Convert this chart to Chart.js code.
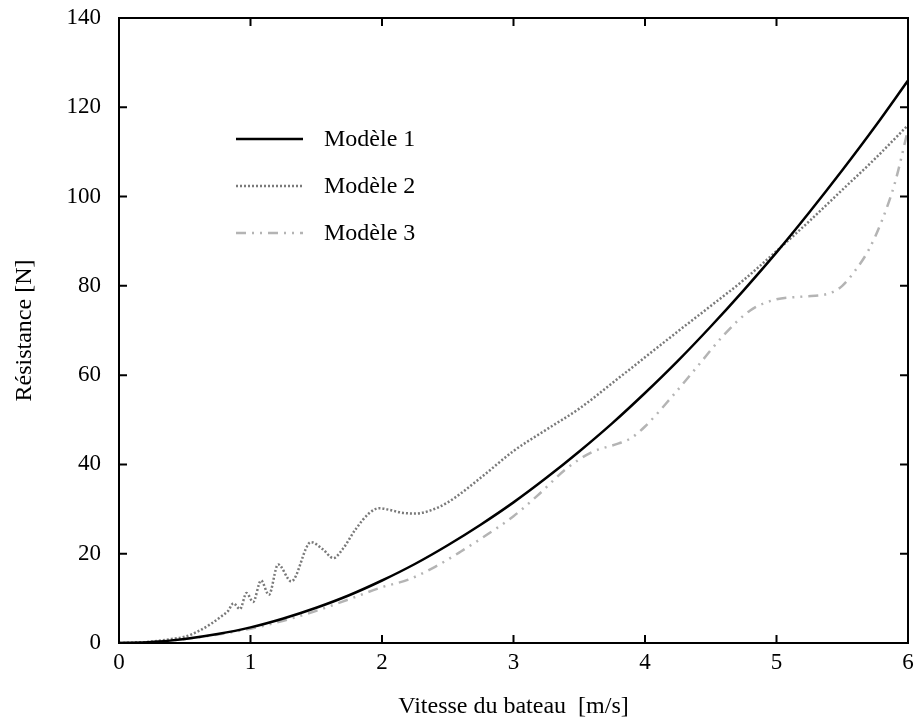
<!DOCTYPE html>
<html>
<head>
<meta charset="utf-8">
<script src="https://cdn.jsdelivr.net/npm/chart.js@4.4.0/dist/chart.umd.min.js"></script>
<style>
  body { margin: 0; background: #fff; }
  #wrap { width: 918px; height: 722px; }
</style>
</head>
<body>
<div id="wrap"><canvas id="chart1"></canvas></div>
<script>
var xTicks = [0, 1, 2, 3, 4, 5, 6];
var yTicks = [0, 20, 40, 60, 80, 100, 120, 140];

var labels = ["Modèle 1", "Modèle 2", "Modèle 3"];

var speed1 = [0, 0.25, 0.5, 0.75, 1, 1.25, 1.5, 1.75, 2, 2.25, 2.5, 2.75, 3, 3.25, 3.5, 3.75, 4, 4.25, 4.5, 4.75, 5, 5.25, 5.5, 5.75, 6];
var model1 = [0, 0.2, 0.9, 2, 3.5, 5.5, 7.9, 10.7, 14, 17.7, 21.9, 26.5, 31.5, 37, 42.9, 49.2, 56, 63.2, 70.9, 79, 87.5, 96.5, 105.9, 115.7, 126];

var speed2 = [0, 0.2, 0.3, 0.4, 0.5, 0.6, 0.7, 0.78, 0.83, 0.87, 0.92, 0.97, 1.02, 1.08, 1.14, 1.21, 1.31, 1.46, 1.55, 1.63, 1.7, 1.8, 1.9, 1.98, 2.06, 2.15, 2.25, 2.35, 2.5, 2.75, 3, 3.25, 3.5, 3.75, 4, 4.25, 4.5, 4.75, 5, 5.25, 5.5, 5.75, 6];
var model2 = [0, 0.2, 0.5, 0.9, 1.4, 2.6, 4.3, 6.0, 7.2, 8.9, 7.6, 11.2, 9.2, 14.0, 10.8, 17.6, 13.8, 22.6, 21, 19, 21, 25.5, 29, 30.2, 29.8, 29.2, 29, 29.5, 31.5, 37, 43, 47.8, 52.5, 58.2, 64, 69.8, 75.5, 81.3, 87.8, 94.5, 101.5, 108.5, 116];

var speed3 = [0, 0.25, 0.5, 0.75, 1, 1.25, 1.5, 1.75, 2, 2.2, 2.4, 2.6, 2.8, 3, 3.2, 3.4, 3.6, 3.8, 3.9, 4, 4.2, 4.4, 4.6, 4.8, 5, 5.2, 5.4, 5.5, 5.6, 5.7, 5.8, 5.9, 6];
var model3 = [0, 0.2, 0.9, 1.9, 3.2, 5, 7.2, 9.8, 12.5, 14.2, 17, 20.5, 24.3, 28.4, 33.5, 39, 42.8, 44.7, 46, 48.5, 55, 62, 69, 74.5, 77, 77.6, 78.3, 80, 83.5, 88, 94.5, 103, 115];

function toPoints(xs, ys) {
  var pts = [];
  for (var i = 0; i < xs.length; i++) pts.push({ x: xs[i], y: ys[i] });
  return pts;
}

var serif = "'Liberation Serif', 'DejaVu Serif', serif";

// box, inside ticks on all four sides, and the legend inside the plot
var framePlugin = {
  id: "frame",
  afterDraw: function (chart) {
    var c = chart.ctx, a = chart.chartArea;
    var sx = chart.scales.x, sy = chart.scales.y;
    c.save();
    c.strokeStyle = "#000";
    c.lineWidth = 2;
    c.setLineDash([]);
    c.strokeRect(a.left, a.top, a.right - a.left, a.bottom - a.top);
    c.beginPath();
    xTicks.forEach(function (v) {
      var px = sx.getPixelForValue(v);
      c.moveTo(px, a.bottom); c.lineTo(px, a.bottom - 8);
      c.moveTo(px, a.top); c.lineTo(px, a.top + 8);
    });
    yTicks.forEach(function (v) {
      var py = sy.getPixelForValue(v);
      c.moveTo(a.left, py); c.lineTo(a.left + 8, py);
      c.moveTo(a.right, py); c.lineTo(a.right - 8, py);
    });
    c.stroke();

    // legend
    var lx = a.left + 117, ly = a.top + 121, gap = 47;
    c.font = "24px " + serif;
    c.textBaseline = "middle";
    c.fillStyle = "#000";
    chart.data.datasets.forEach(function (ds, i) {
      var y = ly + i * gap;
      c.strokeStyle = ds.borderColor;
      c.lineWidth = ds.borderWidth;
      c.setLineDash(ds.borderDash || []);
      c.beginPath();
      c.moveTo(lx, y); c.lineTo(lx + 67, y);
      c.stroke();
      c.fillText(ds.label, lx + 88, y + 1);
    });
    c.restore();
  }
};

var ctx1 = document.getElementById("chart1");

var chart1 = new Chart(ctx1, {
  type: "line",
  data: {
    datasets: [
      {
        label: labels[0],
        data: toPoints(speed1, model1),
        borderColor: "#000000",
        borderWidth: 2.5,
        pointRadius: 0,
        cubicInterpolationMode: "monotone"
      },
      {
        label: labels[1],
        data: toPoints(speed2, model2),
        borderColor: "#7a7a7a",
        borderWidth: 2.5,
        borderDash: [2, 2],
        pointRadius: 0,
        cubicInterpolationMode: "monotone"
      },
      {
        label: labels[2],
        data: toPoints(speed3, model3),
        borderColor: "#b4b4b4",
        borderWidth: 2.5,
        borderDash: [10, 6, 2, 6, 2, 6],
        pointRadius: 0,
        cubicInterpolationMode: "monotone"
      }
    ]
  },
  options: {
    responsive: true,
    maintainAspectRatio: false,
    animation: false,
    layout: { padding: { top: 18, right: 10, left: 0, bottom: 0 } },
    plugins: {
      legend: { display: false },
      tooltip: { enabled: false }
    },
    scales: {
      x: {
        type: "linear",
        min: 0,
        max: 6,
        afterFit: function (scale) {
          scale.height = 79;
          scale.paddingLeft = 0;
          scale.paddingRight = 0;
        },
        afterBuildTicks: function (scale) {
          scale.ticks = xTicks.map(function (v) { return { value: v }; });
        },
        grid: { display: false, drawTicks: false },
        border: { display: false },
        ticks: { color: "#000", font: { family: serif, size: 23 }, padding: 6, maxRotation: 0 },
        title: {
          display: true,
          text: "Vitesse du bateau  [m/s]",
          color: "#000",
          font: { family: serif, size: 24 },
          padding: { top: 0, bottom: 1 }
        }
      },
      y: {
        type: "linear",
        min: 0,
        max: 140,
        afterFit: function (scale) {
          scale.width = 119;
          scale.paddingTop = 0;
          scale.paddingBottom = 0;
        },
        afterBuildTicks: function (scale) {
          scale.ticks = yTicks.map(function (v) { return { value: v }; });
        },
        grid: { display: false, drawTicks: false },
        border: { display: false },
        ticks: { color: "#000", font: { family: serif, size: 23 }, padding: 18 },
        title: {
          display: true,
          text: "Résistance [N]",
          color: "#000",
          font: { family: serif, size: 24 },
          padding: { top: 10, bottom: 0 }
        }
      }
    }
  },
  plugins: [framePlugin]
});
</script>
</body>
</html>
